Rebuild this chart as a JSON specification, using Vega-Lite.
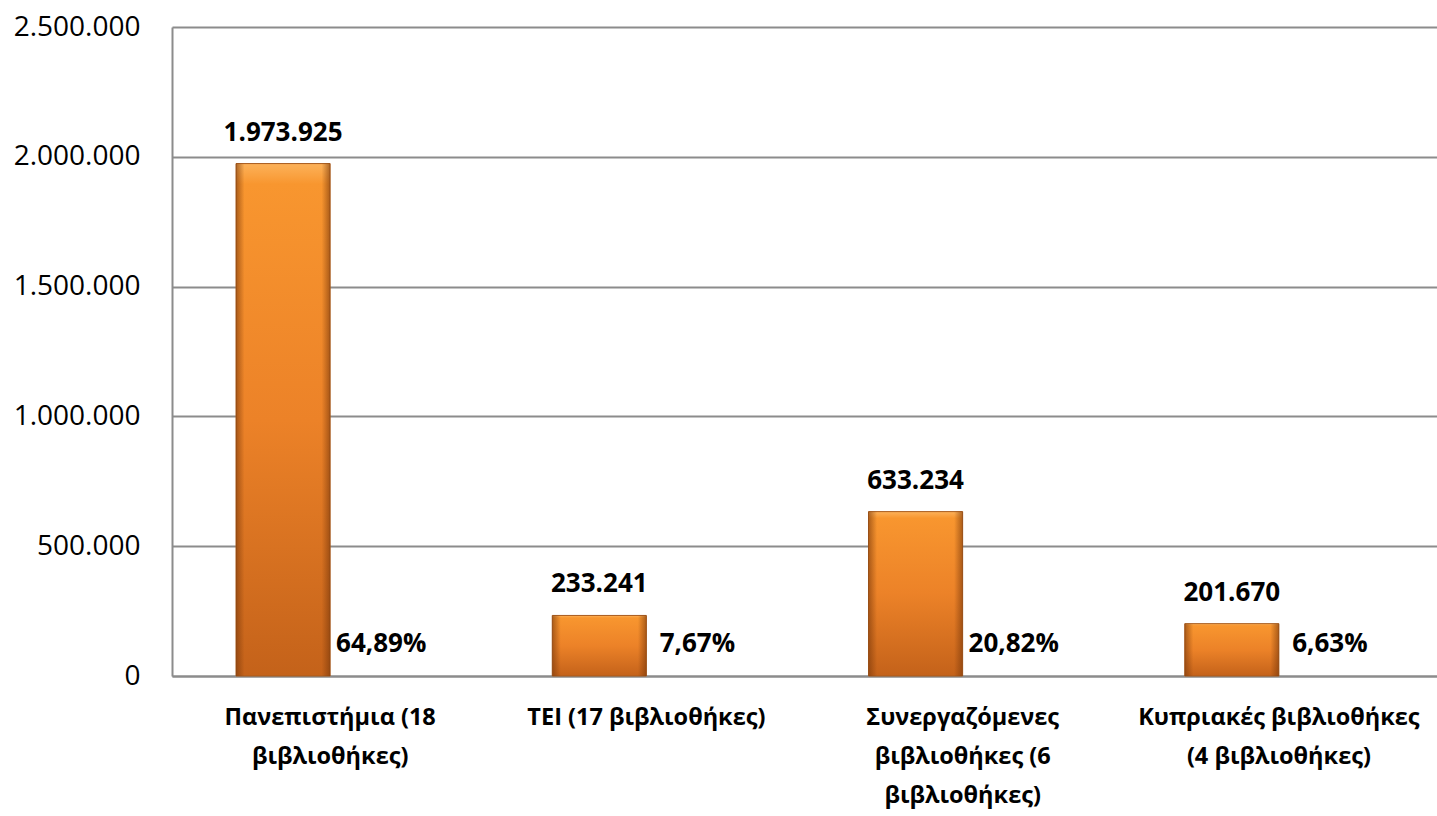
{
  "$schema": "https://vega.github.io/schema/vega-lite/v6.json",
  "width": 1265,
  "height": 649,
  "autosize": {"type": "none"},
  "padding": {"left": 172, "top": 27, "right": 0, "bottom": 140},
  "background": "white",
  "config": {
    "locale": {"number": {"decimal": ",", "thousands": ".", "grouping": [3], "currency": ["", " €"]}},
    "view": {"stroke": null},
    "font": "Open Sans"
  },
  "data": {
    "values": [
      {"cat": "Πανεπιστήμια (18 βιβλιοθήκες)", "series": "count", "value": 1973925},
      {"cat": "Πανεπιστήμια (18 βιβλιοθήκες)", "series": "pct", "value": 0.6489},
      {"cat": "TEI (17 βιβλιοθήκες)", "series": "count", "value": 233241},
      {"cat": "TEI (17 βιβλιοθήκες)", "series": "pct", "value": 0.0767},
      {"cat": "Συνεργαζόμενες βιβλιοθήκες (6 βιβλιοθήκες)", "series": "count", "value": 633234},
      {"cat": "Συνεργαζόμενες βιβλιοθήκες (6 βιβλιοθήκες)", "series": "pct", "value": 0.2082},
      {"cat": "Κυπριακές βιβλιοθήκες (4 βιβλιοθήκες)", "series": "count", "value": 201670},
      {"cat": "Κυπριακές βιβλιοθήκες (4 βιβλιοθήκες)", "series": "pct", "value": 0.0663}
    ]
  },
  "encoding": {
    "x": {
      "field": "cat",
      "type": "nominal",
      "sort": null,
      "scale": {"paddingInner": 0, "paddingOuter": 0},
      "axis": {
        "title": null,
        "labelAngle": 0,
        "ticks": false,
        "domainColor": "#8c8c8c",
        "domainWidth": 2,
        "labelPadding": 29,
        "labelFont": "Open Sans",
        "labelFontWeight": "bold",
        "labelFontSize": 23.5,
        "labelColor": "#000000",
        "labelLineHeight": 39,
        "labelBaseline": "top",
        "labelLimit": 400,
        "labelExpr": "datum.label == 'Πανεπιστήμια (18 βιβλιοθήκες)' ? ['Πανεπιστήμια (18', 'βιβλιοθήκες)'] : datum.label == 'Συνεργαζόμενες βιβλιοθήκες (6 βιβλιοθήκες)' ? ['Συνεργαζόμενες', 'βιβλιοθήκες (6', 'βιβλιοθήκες)'] : datum.label == 'Κυπριακές βιβλιοθήκες (4 βιβλιοθήκες)' ? ['Κυπριακές βιβλιοθήκες', '(4 βιβλιοθήκες)'] : datum.label"
      }
    },
    "xOffset": {
      "field": "series",
      "type": "nominal",
      "scale": {"domain": ["count", "pct"], "paddingInner": 0, "paddingOuter": 0.68}
    },
    "y": {
      "field": "value",
      "type": "quantitative",
      "scale": {"domain": [0, 2500000], "nice": false},
      "axis": {
        "title": null,
        "values": [0, 500000, 1000000, 1500000, 2000000, 2500000],
        "format": ",d",
        "ticks": false,
        "grid": true,
        "gridColor": "#8c8c8c",
        "gridWidth": 2,
        "domainColor": "#8c8c8c",
        "domainWidth": 2,
        "labelPadding": 32,
        "labelFont": "Open Sans",
        "labelFontSize": 28,
        "labelColor": "#000000"
      }
    }
  },
  "layer": [
    {
      "transform": [{"filter": "datum.series == 'count'"}],
      "mark": {
        "type": "bar",
        "color": {
          "gradient": "linear", "x1": 0, "y1": 0, "x2": 0, "y2": 1,
          "stops": [
            {"offset": 0, "color": "#FCB25A"},
            {"offset": 0.04, "color": "#F8962F"},
            {"offset": 0.5, "color": "#EC8228"},
            {"offset": 1, "color": "#C4621A"}
          ]
        },
        "stroke": "#A85A1C",
        "strokeWidth": 1
      }
    },
    {
      "transform": [{"filter": "datum.series == 'count'"}],
      "mark": {
        "type": "bar",
        "color": {
          "gradient": "linear", "x1": 0, "y1": 0, "x2": 1, "y2": 0,
          "stops": [
            {"offset": 0, "color": "rgba(120,55,10,0.6)"},
            {"offset": 0.09, "color": "rgba(120,55,10,0.0)"},
            {"offset": 0.91, "color": "rgba(120,55,10,0.0)"},
            {"offset": 1, "color": "rgba(120,55,10,0.6)"}
          ]
        }
      }
    },
    {
      "transform": [{"filter": "datum.series == 'pct'"}],
      "mark": {"type": "bar", "color": "#F5C9A6"}
    },
    {
      "transform": [{"filter": "datum.series == 'count'"}],
      "mark": {"type": "text", "baseline": "bottom", "dy": -18, "font": "Open Sans", "fontWeight": "bold", "fontSize": 26, "color": "#000000"},
      "encoding": {"text": {"field": "value", "type": "quantitative", "format": ",d"}}
    },
    {
      "transform": [{"filter": "datum.series == 'pct'"}],
      "mark": {"type": "text", "baseline": "bottom", "dy": -19, "dx": 4, "font": "Open Sans", "fontWeight": "bold", "fontSize": 26, "color": "#000000"},
      "encoding": {"text": {"field": "value", "type": "quantitative", "format": ".2%"}}
    }
  ]
}
